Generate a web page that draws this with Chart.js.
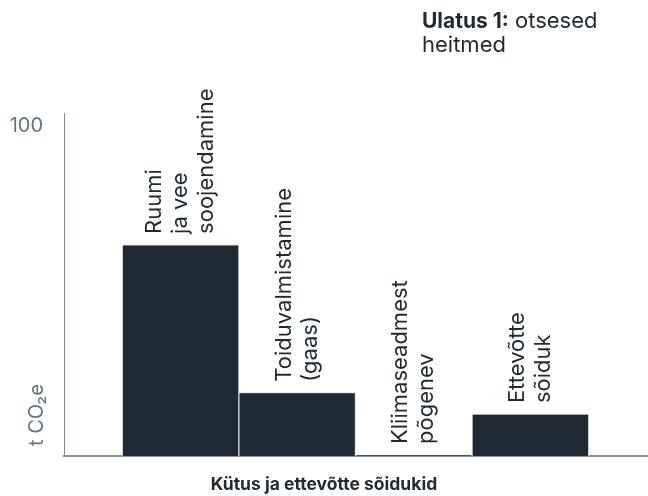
<!DOCTYPE html>
<html>
<head>
<meta charset="utf-8">
<script src="https://cdn.jsdelivr.net/npm/chart.js@4"></script>
<style>
  html, body { margin: 0; padding: 0; background: #fff; }
  #wrap { width: 648px; height: 496px; }
</style>
</head>
<body>
<div id="wrap"><canvas id="chart"></canvas></div>
<script>
const categories = [
  ["Ruumi", "ja vee", "soojendamine"],
  ["Toiduvalmistamine", "(gaas)"],
  ["Kliimaseadmest", "põgenev"],
  ["Ettevõtte", "sõiduk"]
];
const positions = [1, 2, 3, 4];
const values = [64.0, 19.2, 0.3, 12.7];
const yTicks = [100];

const FONT = "Inter, 'Noto Sans', sans-serif";
const DARK = "#1f2a33";
const GREY = "#617487";

const labelsPlugin = {
  id: "barLabels",
  afterDatasetsDraw(chart) {
    const ctx = chart.ctx;
    const meta = chart.getDatasetMeta(0);
    ctx.save();
    ctx.fillStyle = DARK;
    ctx.font = "22px " + FONT;
    ctx.textAlign = "left";
    ctx.textBaseline = "middle";
    meta.data.forEach((bar, i) => {
      const lines = categories[i];
      ctx.save();
      ctx.translate(bar.x, bar.y - 11);
      ctx.rotate(-Math.PI / 2);
      lines.forEach((line, j) => {
        ctx.fillText(line, 0, (j - (lines.length - 1) / 2) * 26);
      });
      ctx.restore();
    });
    ctx.restore();
  }
};

const textPlugin = {
  id: "extraText",
  afterDraw(chart) {
    const ctx = chart.ctx;
    ctx.save();
    // heading
    ctx.fillStyle = DARK;
    ctx.textBaseline = "alphabetic";
    ctx.textAlign = "left";
    ctx.font = "bold 21px " + FONT;
    ctx.fillText("Ulatus 1:", 422, 28);
    const w = ctx.measureText("Ulatus 1:").width;
    ctx.font = "22px " + FONT;
    ctx.fillText(" otsesed", 422 + w, 28);
    ctx.fillText("heitmed", 422, 52);
    // x title
    ctx.font = "bold 17.5px " + FONT;
    ctx.textAlign = "center";
    ctx.fillText("Kütus ja ettevõtte sõidukid", 324, 490);
    // unit
    ctx.fillStyle = GREY;
    ctx.font = "20px " + FONT;
    ctx.translate(37, 446);
    ctx.rotate(-Math.PI / 2);
    ctx.textAlign = "left";
    ctx.textBaseline = "middle";
    ctx.fillText("t CO₂e", 0, 0);
    ctx.restore();
  }
};

new Chart(document.getElementById("chart").getContext("2d"), {
  type: "bar",
  data: {
    datasets: [{
      data: positions.map((x, i) => ({ x: x, y: values[i] })),
      backgroundColor: DARK,
      borderColor: "#d3d8dd",
      borderWidth: 1,
      barPercentage: 1,
      categoryPercentage: 1
    }]
  },
  options: {
    animation: false,
    responsive: true,
    maintainAspectRatio: false,
    layout: { padding: { top: 113, right: 1, left: 0, bottom: 0 } },
    plugins: { legend: { display: false }, tooltip: { enabled: false } },
    scales: {
      x: {
        type: "linear",
        min: 0,
        max: 5,
        offset: false,
        grid: { display: false, offset: false },
        border: { display: true, color: "#8794a1", width: 2 },
        ticks: { display: false, stepSize: 1 },
        afterFit(scale) { scale.height = 40; }
      },
      y: {
        min: 0,
        max: 104,
        grid: { display: false, drawTicks: false },
        border: { display: true, color: "#7d8b9a", width: 1 },
        afterBuildTicks(scale) { scale.ticks = yTicks.map(v => ({ value: v })); },
        ticks: { color: GREY, font: { family: FONT, size: 20 }, padding: 21 },
        afterFit(scale) { scale.width = 64; }
      }
    }
  },
  plugins: [labelsPlugin, textPlugin]
});
</script>
</body>
</html>
